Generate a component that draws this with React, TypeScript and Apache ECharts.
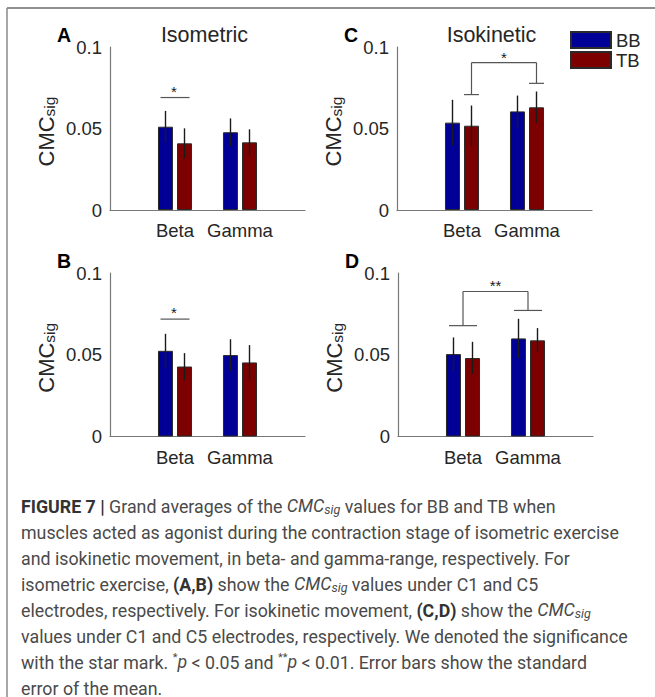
import React, { useEffect, useRef } from "react";
import * as echarts from "echarts";

// ---------- data ----------
const categories = ["", "Beta", "Gamma", ""];
const seriesNames = ["BB", "TB"];
const panelLetters = ["A", "B", "C", "D"];
const panelTitles = ["Isometric", "", "Isokinetic", ""];

// Panel A – isometric, C1
const bbMeanA = [0.0511, 0.0477];
const bbErrA = [0.0097, 0.0085];
const tbMeanA = [0.0409, 0.0415];
const tbErrA = [0.0092, 0.008];
// Panel B – isometric, C5
const bbMeanB = [0.0524, 0.0498];
const bbErrB = [0.0104, 0.0097];
const tbMeanB = [0.0428, 0.0453];
const tbErrB = [0.0082, 0.0106];
// Panel C – isokinetic, C1
const bbMeanC = [0.0536, 0.0605];
const bbErrC = [0.014, 0.0097];
const tbMeanC = [0.0517, 0.063];
const tbErrC = [0.0124, 0.0097];
// Panel D – isokinetic, C5
const bbMeanD = [0.0504, 0.06];
const bbErrD = [0.0102, 0.012];
const tbMeanD = [0.048, 0.0588];
const tbErrD = [0.0099, 0.0075];

// significance marks: [category, y] for pairs; [cat1, cat2, yLeft, yRight, yTop] for brackets
const sigPairA = [1, 0.069];
const sigPairB = [1, 0.0718];
const sigBracketC = [1, 2, 0.0708, 0.0777, 0.0904];
const sigBracketD = [1, 2, 0.0678, 0.0771, 0.0887];
const starsA = "*";
const starsB = "*";
const starsC = "*";
const starsD = "**";

const captionLines = [
  "{b|FIGURE 7 |} Grand averages of the {i|CMC}{is|sig} values for BB and TB when",
  "muscles acted as agonist during the contraction stage of isometric exercise",
  "and isokinetic movement, in beta- and gamma-range, respectively. For",
  "isometric exercise, {b|(A,B)} show the {i|CMC}{is|sig} values under C1 and C5",
  "electrodes, respectively. For isokinetic movement, {b|(C,D)} show the {i|CMC}{is|sig}",
  "values under C1 and C5 electrodes, respectively. We denoted the significance",
  "with the star mark. {sup|*}{i|p} < 0.05 and {sup|**}{i|p} < 0.01. Error bars show the standard",
  "error of the mean.",
];

// ---------- styling ----------
const BLUE = "#000096";
const RED = "#7d0000";
const EDGE = "#2a2a2a";
const AX = "#777777";
const TXT = "#262626";
const FONT = "Liberation Sans, Arial, sans-serif";

const gridPos = [
  { left: 110, top: 47, width: 195, height: 163 },
  { left: 110, top: 273, width: 195, height: 163.5 },
  { left: 397, top: 47, width: 195, height: 163 },
  { left: 398, top: 273, width: 195, height: 163.5 },
];
const BAR_W = 15;
const BAR_OFF = 9.5;

export default function App() {
  const ref = useRef<HTMLDivElement>(null);
  useEffect(() => {
    if (!ref.current) return;
    const chart = echarts.init(ref.current, null, { renderer: "svg" });

    const panels = [
      { bbM: bbMeanA, bbE: bbErrA, tbM: tbMeanA, tbE: tbErrA },
      { bbM: bbMeanB, bbE: bbErrB, tbM: tbMeanB, tbE: tbErrB },
      { bbM: bbMeanC, bbE: bbErrC, tbM: tbMeanC, tbE: tbErrC },
      { bbM: bbMeanD, bbE: bbErrD, tbM: tbMeanD, tbE: tbErrD },
    ];

    const grids: any[] = [];
    const xAxes: any[] = [];
    const yAxes: any[] = [];
    const series: any[] = [];

    const pad = (arr: number[]) => ["-", ...arr, "-"];

    const errRender = (offset: number) => (params: any, api: any) => {
      const c = api.value(0);
      const m = api.value(1);
      const e = api.value(2);
      const x = api.coord([c, 0])[0] + offset;
      const y1 = api.coord([c, m + e])[1];
      const y2 = api.coord([c, m - e])[1];
      return {
        type: "line",
        shape: { x1: x, y1, x2: x, y2 },
        style: { stroke: "#1a1a1a", lineWidth: 1.4 },
      };
    };

    panels.forEach((p, i) => {
      grids.push({ ...gridPos[i], containLabel: false });
      xAxes.push({
        type: "category",
        gridIndex: i,
        data: categories,
        boundaryGap: false,
        axisLine: { lineStyle: { color: AX, width: 1.2 } },
        axisTick: { show: false },
        axisLabel: { fontSize: 18.5, color: TXT, margin: 11, fontFamily: FONT, interval: 0 },
        splitLine: { show: false },
      });
      yAxes.push({
        type: "value",
        gridIndex: i,
        min: 0,
        max: 0.1,
        interval: 0.05,
        axisLine: { show: true, lineStyle: { color: AX, width: 1.2 } },
        axisTick: { show: false },
        axisLabel: { fontSize: 18.5, color: TXT, margin: 8, fontFamily: FONT },
        splitLine: { show: false },
      });
      const mk = (name: string, data: number[], color: string) => ({
        type: "bar",
        name,
        xAxisIndex: i,
        yAxisIndex: i,
        data: pad(data),
        barWidth: BAR_W,
        barGap: "27%",
        itemStyle: { color, borderColor: EDGE, borderWidth: 1 },
        emphasis: { disabled: true },
      });
      series.push(mk(seriesNames[0], p.bbM, BLUE));
      series.push(mk(seriesNames[1], p.tbM, RED));
      series.push({
        type: "custom",
        xAxisIndex: i,
        yAxisIndex: i,
        renderItem: errRender(-BAR_OFF),
        data: p.bbM.map((m, k) => [k + 1, m, p.bbE[k]]),
        encode: { x: 0, y: 1 },
        z: 5,
      });
      series.push({
        type: "custom",
        xAxisIndex: i,
        yAxisIndex: i,
        renderItem: errRender(BAR_OFF),
        data: p.tbM.map((m, k) => [k + 1, m, p.tbE[k]]),
        encode: { x: 0, y: 1 },
        z: 5,
      });
    });

    const SIG = "#555555";
    const starStyle = (x: number, y: number, t: string) => ({
      type: "text",
      x,
      y: y + 1,
      style: { text: t, fontSize: 15, fontFamily: FONT, fill: "#1a1a1a", align: "center", verticalAlign: "bottom" },
    });

    const pairRender = (stars: string) => (params: any, api: any) => {
      const c = api.coord([api.value(0), api.value(1)]);
      const hw = 14.5;
      return {
        type: "group",
        children: [
          { type: "line", shape: { x1: c[0] - hw, y1: c[1], x2: c[0] + hw, y2: c[1] }, style: { stroke: SIG, lineWidth: 1.2 } },
          starStyle(c[0] - 1, c[1], stars),
        ],
      };
    };

    const bracketRender = (stars: string, offset: number, hw: number) => (params: any, api: any) => {
      const xl = api.coord([api.value(0), 0])[0] + offset;
      const xr = api.coord([api.value(1), 0])[0] + offset;
      const yl = api.coord([api.value(0), api.value(2)])[1];
      const yr = api.coord([api.value(0), api.value(3)])[1];
      const yt = api.coord([api.value(0), api.value(4)])[1];
      const ls = { stroke: SIG, lineWidth: 1.2 };
      return {
        type: "group",
        children: [
          { type: "line", shape: { x1: xl - hw, y1: yl, x2: xl + hw, y2: yl }, style: ls },
          { type: "line", shape: { x1: xr - hw, y1: yr, x2: xr + hw, y2: yr }, style: ls },
          { type: "line", shape: { x1: xl, y1: yl, x2: xl, y2: yt }, style: ls },
          { type: "line", shape: { x1: xr, y1: yr, x2: xr, y2: yt }, style: ls },
          { type: "line", shape: { x1: xl, y1: yt, x2: xr, y2: yt }, style: ls },
          starStyle((xl + xr) / 2, yt + 1, stars),
        ],
      };
    };

    series.push({ type: "custom", xAxisIndex: 0, yAxisIndex: 0, renderItem: pairRender(starsA), data: [sigPairA], encode: { x: 0, y: 1 }, z: 6 });
    series.push({ type: "custom", xAxisIndex: 1, yAxisIndex: 1, renderItem: pairRender(starsB), data: [sigPairB], encode: { x: 0, y: 1 }, z: 6 });
    series.push({ type: "custom", xAxisIndex: 2, yAxisIndex: 2, renderItem: bracketRender(starsC, BAR_OFF, 7.5), data: [sigBracketC], encode: { x: 0, y: 2 }, z: 6 });
    series.push({ type: "custom", xAxisIndex: 3, yAxisIndex: 3, renderItem: bracketRender(starsD, 0, 14), data: [sigBracketD], encode: { x: 0, y: 2 }, z: 6 });

    const graphics: any[] = [];
    // frame
    graphics.push({ type: "line", shape: { x1: 7, y1: 8, x2: 655, y2: 8 }, style: { stroke: "#6a6a6a", lineWidth: 1.5 } });
    graphics.push({ type: "line", shape: { x1: 7, y1: 8, x2: 7, y2: 697 }, style: { stroke: "#8a8a8a", lineWidth: 1.5 } });

    gridPos.forEach((g, i) => {
      const cy = g.top + g.height / 2 + 3;
      graphics.push({
        type: "text",
        x: 46.5 + (g.left - 110),
        y: cy,
        rotation: Math.PI / 2,
        style: {
          text: "{m|CMC}{s|sig}",
          align: "center",
          verticalAlign: "middle",
          rich: {
            m: { fontSize: 22, fontFamily: FONT, fill: TXT, lineHeight: 22, verticalAlign: "top" },
            s: { fontSize: 15.5, fontFamily: FONT, fill: TXT, lineHeight: 15.5, padding: [10, 0, 0, 0], verticalAlign: "bottom" },
          },
        },
      });
      graphics.push({
        type: "text",
        x: g.left - 53,
        y: g.top - 12,
        style: { text: panelLetters[i], fontSize: 19.5, fontWeight: "bold", fontFamily: FONT, fill: "#000", align: "left", verticalAlign: "middle" },
      });
      if (panelTitles[i]) {
        graphics.push({
          type: "text",
          x: g.left + g.width / 2 - 3,
          y: 35,
          style: { text: panelTitles[i], fontSize: 21.5, fontFamily: FONT, fill: TXT, align: "center", verticalAlign: "middle" },
        });
      }
    });

    const capFont = "Roboto, Liberation Sans, sans-serif";
    const CAP = 17.8;
    captionLines.forEach((line, k) => {
      graphics.push({
        type: "text",
        x: 21,
        y: 506 + k * 26,
        style: {
          text: line,
          fontSize: CAP,
          fontFamily: capFont,
          fill: "#4a4a4a",
          align: "left",
          verticalAlign: "middle",
          rich: {
            b: { fontSize: CAP, fontFamily: capFont, fontWeight: "bold", fill: "#333" },
            i: { fontSize: CAP, fontFamily: capFont, fontStyle: "italic", fill: "#4a4a4a", lineHeight: 20, verticalAlign: "top" },
            is: { fontSize: 12.5, fontFamily: capFont, fontStyle: "italic", fill: "#4a4a4a", lineHeight: 12.5, padding: [8, 0, 0, 0], verticalAlign: "bottom" },
            sup: { fontSize: 11, fontFamily: capFont, fill: "#4a4a4a", lineHeight: 11, verticalAlign: "top" },
          },
        },
      });
    });

    chart.setOption({
      animation: false,
      backgroundColor: "#ffffff",
      legend: {
        data: seriesNames,
        orient: "vertical",
        left: 570,
        top: 30.5,
        padding: 0,
        itemWidth: 40,
        itemHeight: 16,
        itemGap: 1,
        icon: "rect",
        textStyle: { fontSize: 18.5, lineHeight: 19, color: TXT, fontFamily: FONT },
        selectedMode: false,
      },
      grid: grids,
      xAxis: xAxes,
      yAxis: yAxes,
      series,
      graphic: graphics,
    });
    return () => chart.dispose();
  }, []);
  return <div ref={ref} style={{ position: "fixed", left: 0, top: 0, width: 655, height: 697 }} />;
}
